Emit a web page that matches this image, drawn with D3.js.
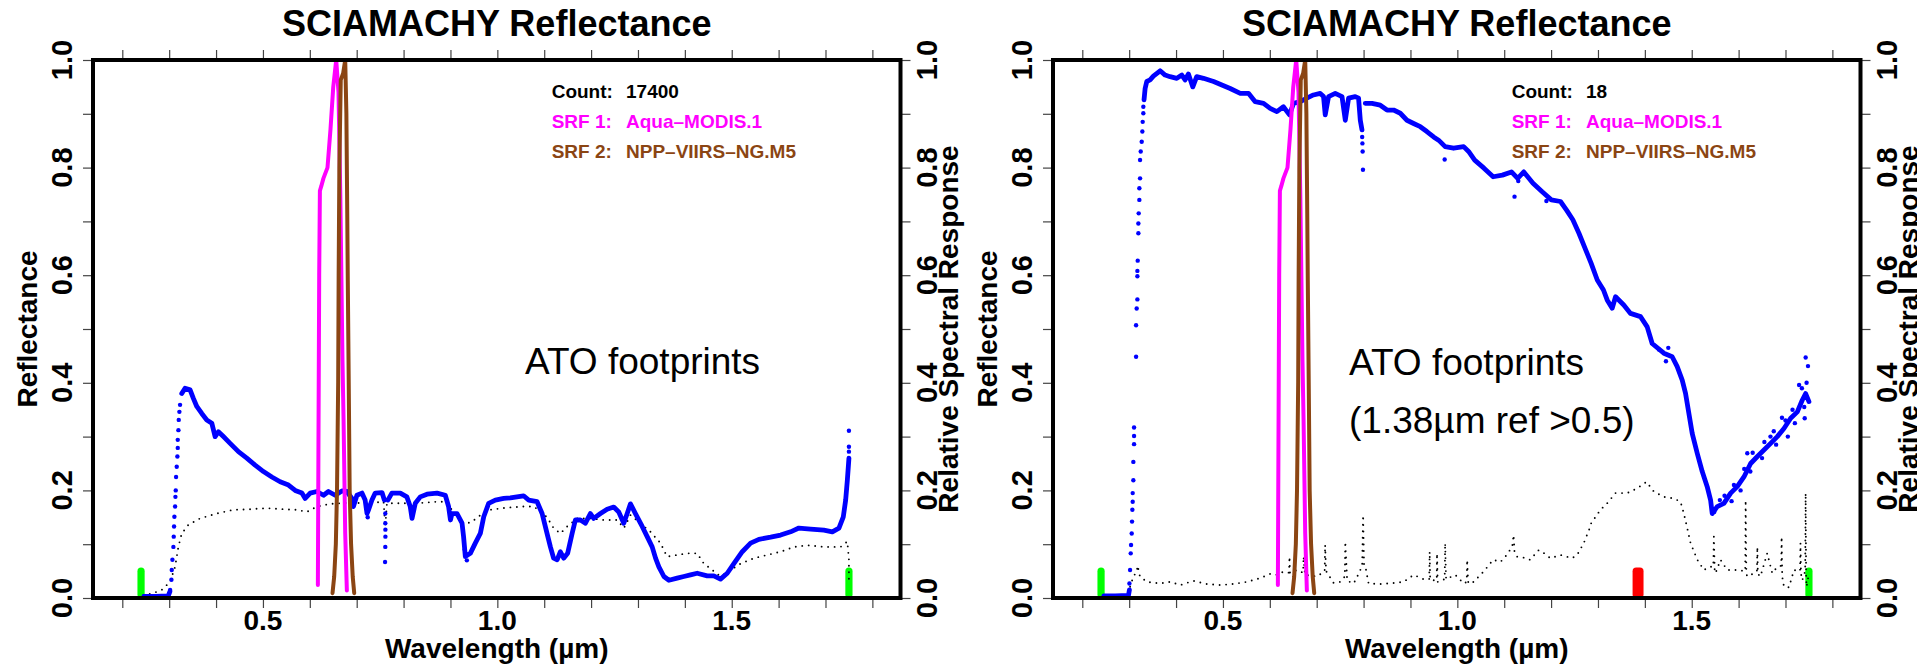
<!DOCTYPE html>
<html>
<head>
<meta charset="utf-8">
<script src="https://cdn.jsdelivr.net/npm/d3@7"></script>
<style>
  html, body { margin: 0; padding: 0; background: #fff; }
  svg { display: block; }
  text { font-family: "Liberation Sans", Arial, Helvetica, sans-serif; }
</style>
</head>
<body>
<svg id="chart" width="1917" height="667"></svg>
<script>
// ---------- axis definitions ----------
const xDomain = [0.1375, 1.86];
const xTicks = [0.2, 0.3, 0.4, 0.5, 0.6, 0.7, 0.8, 0.9, 1.0, 1.1, 1.2, 1.3, 1.4, 1.5, 1.6, 1.7, 1.8];
const xTickLabels = [0.5, 1.0, 1.5];
const yTicks = [0, 0.1, 0.2, 0.3, 0.4, 0.5, 0.6, 0.7, 0.8, 0.9, 1.0];
const yTickLabels = [0, 0.2, 0.4, 0.6, 0.8, 1.0];

// ---------- spectral response functions (wavelength µm, relative response) ----------
const srfModis = [[0.6172,0.024],[0.6185,0.30],[0.6200,0.60],[0.6215,0.757],[0.6243,0.765],[0.6290,0.78],[0.6377,0.80],[0.6440,0.87],[0.6500,0.95],[0.6563,1.0],[0.6612,0.94],[0.6650,0.75],[0.6697,0.44],[0.6720,0.33],[0.6755,0.12],[0.6790,0.014]];
const srfViirs = [[0.6484,0.009],[0.6520,0.04],[0.6555,0.10],[0.6580,0.20],[0.6605,0.40],[0.6615,0.60],[0.6630,0.80],[0.6660,0.963],[0.6710,0.975],[0.6755,1.0],[0.6780,0.90],[0.6800,0.70],[0.6810,0.59],[0.6830,0.40],[0.6850,0.20],[0.6880,0.10],[0.6915,0.04],[0.6947,0.009]];

// ---------- left panel: all ATO footprints ----------
const reflLeft = [[0.246,0.003],[0.27,0.003],[0.298,0.004],[0.3015,0.012], null,
  [0.3268,0.380],[0.3339,0.390],[0.3446,0.387],[0.3516,0.371],[0.3589,0.356],[0.3695,0.343],[0.3802,0.331],[0.3909,0.325],[0.398,0.300],[0.405,0.309],[0.4157,0.300],[0.430,0.2875],[0.4477,0.272],[0.4656,0.260],[0.4833,0.247],[0.5011,0.235],[0.519,0.225],[0.5367,0.216],[0.5545,0.210],[0.5688,0.200],[0.5831,0.195],[0.5901,0.185],[0.6008,0.195],[0.6151,0.198],[0.6292,0.191],[0.6398,0.198],[0.6541,0.191],[0.6684,0.199],[0.679,0.198],[0.6898,0.185],[0.693,0.170],[0.7005,0.191],[0.7112,0.195],[0.718,0.182],[0.722,0.157],[0.7253,0.164],[0.7325,0.182],[0.7395,0.195],[0.754,0.196],[0.759,0.182], null,
  [0.7665,0.182],[0.775,0.195],[0.793,0.195],[0.807,0.188],[0.8142,0.17],[0.818,0.148],[0.825,0.176],[0.8356,0.188],[0.85,0.193],[0.8713,0.195],[0.889,0.191],[0.896,0.17],[0.9,0.145],[0.9033,0.157],[0.914,0.157],[0.9247,0.139],[0.928,0.114],[0.9317,0.077],[0.9424,0.083],[0.953,0.102],[0.9637,0.12],[0.971,0.151],[0.9815,0.176],[0.9957,0.182],[1.0135,0.185],[1.0277,0.186],[1.056,0.19],[1.067,0.182],[1.0848,0.179],[1.0955,0.157],[1.106,0.12],[1.1132,0.095],[1.120,0.074],[1.1275,0.071],[1.1345,0.086],[1.1416,0.074],[1.150,0.083],[1.1595,0.12],[1.1665,0.145],[1.1772,0.145],[1.1879,0.139],[1.1985,0.157],[1.2056,0.148],[1.22,0.157],[1.2342,0.165],[1.2483,0.169],[1.259,0.16],[1.2697,0.139],[1.277,0.157],[1.284,0.175],[1.2946,0.157],[1.309,0.133],[1.3196,0.114],[1.3303,0.095],[1.3375,0.074],[1.3446,0.058],[1.3553,0.04],[1.366,0.033],[1.3836,0.037],[1.3977,0.04],[1.412,0.043],[1.4263,0.046],[1.4477,0.041],[1.4618,0.041],[1.476,0.035],[1.4904,0.046],[1.5045,0.064],[1.5224,0.086],[1.5402,0.102],[1.558,0.109],[1.583,0.113],[1.6042,0.117],[1.6255,0.123],[1.6433,0.13],[1.6682,0.128],[1.6966,0.126],[1.7146,0.123],[1.7287,0.13],[1.738,0.151],[1.743,0.182],[1.7466,0.219],[1.7487,0.244],[1.75,0.26]];
const reflDotsLeft = [[0.302,0.015],[0.3048,0.034],[0.3055,0.052],[0.3069,0.071],[0.309,0.095],[0.3097,0.114],[0.3104,0.133],[0.3111,0.151],[0.3126,0.170],[0.3133,0.188],[0.314,0.200],[0.3147,0.225],[0.3161,0.244],[0.3175,0.263],[0.3183,0.279],[0.3183,0.294],[0.3197,0.312],[0.3204,0.331],[0.3218,0.346],[0.3232,0.359],
  [0.761,0.157],[0.761,0.139],[0.7612,0.127],[0.7612,0.114],[0.761,0.095],[0.7605,0.067],
  [0.7235,0.150],[0.9305,0.09],[0.935,0.07],
  [1.75,0.272],[1.75,0.281],[1.75,0.311]];
const stdLeft = [[0.245,0.005],[0.266,0.009],[0.284,0.015],[0.302,0.03],[0.3126,0.058],[0.3196,0.095],[0.3268,0.12],[0.341,0.136],[0.366,0.148],[0.4016,0.157],[0.437,0.164],[0.4727,0.165],[0.5083,0.167],[0.544,0.165],[0.5724,0.164],[0.5937,0.160],[0.6151,0.170],[0.6435,0.175],[0.6862,0.177],[0.722,0.176],[0.7573,0.179],[0.761,0.133],[0.7645,0.176],[0.814,0.176],[0.816,0.16],[0.819,0.176],[0.843,0.177],[0.871,0.179],[0.889,0.179],[0.903,0.164],[0.914,0.157],[0.928,0.136],[0.946,0.142],[0.964,0.154],[0.985,0.164],[1.0207,0.168],[1.056,0.170],[1.0775,0.170],[1.099,0.157],[1.1095,0.145],[1.12,0.13],[1.1345,0.12],[1.149,0.133],[1.1702,0.148],[1.1985,0.148],[1.227,0.145],[1.2556,0.145],[1.27,0.13],[1.284,0.154],[1.3053,0.139],[1.3266,0.123],[1.348,0.102],[1.362,0.077],[1.3836,0.08],[1.405,0.083],[1.4263,0.083],[1.4405,0.064],[1.4584,0.052],[1.476,0.04],[1.4975,0.052],[1.519,0.064],[1.5472,0.074],[1.576,0.08],[1.6042,0.086],[1.633,0.095],[1.661,0.098],[1.6966,0.095],[1.7323,0.095],[1.7466,0.105],[1.75,0.071],[1.75,0.033]];

// ---------- right panel: footprints with 1.38 µm reflectance > 0.5 ----------
const reflRight = [[0.246,0.004],[0.27,0.004],[0.2985,0.005],[0.3005,0.015], null,
  [0.3317,0.926],[0.334,0.947],[0.3375,0.96],[0.3446,0.963],[0.3516,0.970],[0.366,0.98],[0.3766,0.972],[0.3873,0.969],[0.4016,0.966],[0.4123,0.972],[0.4193,0.963],[0.4264,0.974],[0.4357,0.95],[0.444,0.969],[0.4584,0.966],[0.48,0.96],[0.4977,0.9535],[0.5154,0.947],[0.537,0.938],[0.5545,0.938],[0.5688,0.9225],[0.5866,0.9195],[0.6008,0.910],[0.615,0.904],[0.629,0.913],[0.642,0.898],[0.6506,0.9195],[0.665,0.9225],[0.679,0.929],[0.693,0.935],[0.7075,0.938],[0.7146,0.932],[0.7182,0.898],[0.7253,0.932],[0.7395,0.938],[0.754,0.932],[0.761,0.888],[0.768,0.929],[0.7822,0.932],[0.7893,0.929],[0.793,0.888],[0.7966,0.87], null,
  [0.8036,0.9195],[0.818,0.9195],[0.8356,0.916],[0.85,0.907],[0.864,0.907],[0.8783,0.901],[0.8925,0.888],[0.9067,0.882],[0.921,0.876],[0.935,0.867],[0.9494,0.857],[0.96,0.851],[0.974,0.839],[0.992,0.836],[1.0135,0.839],[1.024,0.83],[1.037,0.814],[1.0568,0.799],[1.0764,0.783],[1.096,0.786],[1.1155,0.792],[1.1287,0.780],[1.1418,0.792],[1.1614,0.771],[1.181,0.755],[1.2005,0.740],[1.22,0.737],[1.233,0.721],[1.2464,0.703],[1.2594,0.678],[1.2725,0.650],[1.2855,0.622],[1.2985,0.591],[1.3117,0.5725],[1.3196,0.554],[1.3303,0.5385],[1.3375,0.56],[1.355,0.5446],[1.3694,0.529],[1.3907,0.523],[1.405,0.504],[1.4156,0.473],[1.4405,0.455],[1.4583,0.4485],[1.469,0.43],[1.4797,0.405],[1.4868,0.3805],[1.4939,0.343],[1.501,0.306],[1.5117,0.269],[1.5224,0.235],[1.533,0.207],[1.5402,0.182],[1.5437,0.157],[1.5544,0.17],[1.5686,0.176],[1.583,0.195],[1.597,0.207],[1.6113,0.225],[1.6256,0.25],[1.64,0.263],[1.654,0.275],[1.6683,0.2875],[1.6825,0.30],[1.6967,0.315],[1.711,0.334],[1.7252,0.346],[1.7359,0.368],[1.743,0.38],[1.75,0.365]];
const reflDotsRight = [[0.3005,0.027],[0.3019,0.052],[0.3033,0.083],[0.304,0.0985],[0.3054,0.12],[0.3061,0.142],[0.3068,0.164],[0.3075,0.179],[0.3075,0.195],[0.3089,0.219],[0.3089,0.253],[0.3104,0.286],[0.3104,0.301],[0.3104,0.317],
  [0.3147,0.4485],[0.3147,0.507],[0.316,0.538],[0.3175,0.555],[0.3175,0.598],[0.3175,0.608],[0.3182,0.627],[0.3196,0.678],[0.3196,0.696],[0.3203,0.715],[0.3217,0.74],[0.3217,0.7615],[0.3232,0.78],[0.3232,0.814],[0.3246,0.83],[0.3267,0.848],[0.3281,0.867],[0.3288,0.885],[0.3302,0.901],[0.3302,0.913],
  [0.797,0.857],[0.7975,0.845],[0.798,0.83],[0.7987,0.796],[0.973,0.815],[1.122,0.746],[1.13,0.775],[1.19,0.738],
  [1.43,0.462],[1.445,0.44],[1.45,0.465],
  [1.5437,0.165],[1.548,0.16],[1.56,0.182],[1.57,0.19],[1.585,0.18],[1.59,0.21],[1.6042,0.2],[1.612,0.24],[1.6185,0.269],[1.625,0.235],[1.63,0.27],[1.65,0.26],[1.655,0.29],[1.668,0.30],[1.675,0.31],[1.68,0.285],
  [1.6925,0.335],[1.70,0.33],[1.705,0.30],[1.715,0.35],[1.72,0.325],[1.729,0.396],[1.735,0.39],[1.74,0.355],[1.741,0.334],[1.743,0.447],[1.745,0.40],[1.748,0.431]];
const stdRight = [[0.302,0.021],[0.309,0.04],[0.3162,0.049],[0.318,0.06],[0.323,0.04],[0.3375,0.03],[0.366,0.027],[0.3873,0.03],[0.409,0.024],[0.437,0.032],[0.4656,0.026],[0.494,0.024],[0.522,0.026],[0.551,0.03],[0.5795,0.037],[0.601,0.045],[0.615,0.043],[0.629,0.049],[0.641,0.047],[0.642,0.077],[0.643,0.047],[0.658,0.052],[0.671,0.047],[0.672,0.077],[0.675,0.043],[0.7005,0.04],[0.711,0.046],[0.717,0.05],[0.718,0.0985],[0.72,0.05],[0.736,0.028],[0.75,0.03],[0.760,0.04],[0.761,0.105],[0.765,0.032],[0.779,0.027],[0.79,0.046],[0.797,0.06],[0.799,0.154],[0.801,0.06],[0.804,0.058],[0.8107,0.027],[0.8356,0.026],[0.864,0.028],[0.8854,0.03],[0.9067,0.043],[0.928,0.035],[0.940,0.035],[0.941,0.086],[0.942,0.035],[0.946,0.033],[0.956,0.033],[0.9567,0.083],[0.958,0.03],[0.96,0.03],[0.973,0.035],[0.974,0.102],[0.976,0.035],[0.9957,0.043],[1.0135,0.027],[1.020,0.03],[1.021,0.071],[1.023,0.03],[1.03,0.026],[1.056,0.049],[1.0764,0.071],[1.092,0.067],[1.1025,0.077],[1.117,0.095],[1.12,0.117],[1.122,0.085],[1.127,0.077],[1.1488,0.074],[1.155,0.071],[1.1736,0.089],[1.181,0.086],[1.1985,0.074],[1.22,0.08],[1.245,0.074],[1.2556,0.08],[1.2697,0.102],[1.2839,0.133],[1.2855,0.139],[1.3053,0.164],[1.3196,0.176],[1.3375,0.195],[1.3624,0.195],[1.3837,0.204],[1.4035,0.216],[1.4191,0.198],[1.4405,0.188],[1.462,0.185],[1.4761,0.179],[1.4832,0.157],[1.4904,0.13],[1.4975,0.102],[1.512,0.071],[1.526,0.052],[1.537,0.058],[1.546,0.058],[1.5472,0.114],[1.549,0.05],[1.5507,0.046],[1.5614,0.071],[1.5757,0.052],[1.597,0.052],[1.614,0.05],[1.615,0.182],[1.6165,0.045],[1.6185,0.04],[1.633,0.046],[1.639,0.05],[1.64,0.095],[1.641,0.045],[1.6465,0.04],[1.661,0.083],[1.6718,0.046],[1.6825,0.058],[1.691,0.06],[1.6917,0.114],[1.693,0.04],[1.6967,0.021],[1.7075,0.02],[1.7181,0.052],[1.731,0.05],[1.732,0.102],[1.733,0.045],[1.7359,0.033],[1.742,0.05],[1.743,0.195],[1.744,0.04],[1.745,0.021],[1.75,0.046]];

// band markers: [low µm, high µm, colour]
const bandsLeft = [[0.24, 0.24, "#00ff00"], [1.75, 1.75, "#00ff00"]];
const bandsRight = [[0.24, 0.24, "#00ff00"], [1.3815, 1.3895, "#ff0000"], [1.75, 1.75, "#00ff00"]];
const bandHeight = 0.05;

const panels = [
  { count: "17400", refl: reflLeft, dots: reflDotsLeft, std: stdLeft, bands: bandsLeft,
    notes: [{ text: "ATO footprints", x: 525, y: 374 }] },
  { count: "18", refl: reflRight, dots: reflDotsRight, std: stdRight, bands: bandsRight,
    notes: [{ text: "ATO footprints", x: 389, y: 375 }, { text: "(1.38\u00b5m ref >0.5)", x: 389, y: 433 }] }
];

// ---------- layout ----------
const svg = d3.select("#chart");
const frameL = 93, frameR = 900.5, frameT = 60, frameB = 598;
const x = d3.scaleLinear().domain(xDomain).range([frameL, frameR]);
const y = d3.scaleLinear().domain([0, 1]).range([frameB, frameT]);
const fmt = d3.format(".1f");
const line = d3.line().defined(d => d !== null).x(d => x(d[0])).y(d => y(d[1]));

panels.forEach((p, i) => {
  const g = svg.append("g").attr("transform", `translate(${i * 960},0)`);

  // tick marks on all four sides
  const tickStyle = sel => {
    sel.select(".domain").remove();
    sel.selectAll(".tick line").attr("stroke", "#444").attr("stroke-width", 1.2);
    sel.selectAll(".tick text").remove();
  };
  g.append("g").attr("transform", `translate(0,${frameB})`)
    .call(d3.axisBottom(x).tickValues(xTicks).tickSize(10).tickFormat("")).call(tickStyle);
  g.append("g").attr("transform", `translate(0,${frameT})`)
    .call(d3.axisTop(x).tickValues(xTicks).tickSize(10).tickFormat("")).call(tickStyle);
  g.append("g").attr("transform", `translate(${frameL},0)`)
    .call(d3.axisLeft(y).tickValues(yTicks).tickSize(10).tickFormat("")).call(tickStyle);
  g.append("g").attr("transform", `translate(${frameR},0)`)
    .call(d3.axisRight(y).tickValues(yTicks).tickSize(10).tickFormat("")).call(tickStyle);

  // band markers
  g.selectAll(".band").data(p.bands).enter().append("rect")
    .attr("x", d => x(d[0]) - 3.6)
    .attr("width", d => x(d[1]) - x(d[0]) + 7.2)
    .attr("y", y(bandHeight) - 3.5)
    .attr("height", y(0) - y(bandHeight) + 3.5)
    .attr("rx", 3.6).attr("ry", 3.6)
    .attr("fill", d => d[2]);

  // variability curve (dotted)
  g.append("path").attr("d", line(p.std))
    .attr("fill", "none").attr("stroke", "#000").attr("stroke-width", 1.9)
    .attr("stroke-linecap", "round").attr("stroke-linejoin", "round")
    .attr("stroke-dasharray", "0,6.5");

  // mean reflectance
  g.append("path").attr("d", line(p.refl))
    .attr("fill", "none").attr("stroke", "#0000ff").attr("stroke-width", 4.8)
    .attr("stroke-linecap", "round").attr("stroke-linejoin", "round");
  g.selectAll(".rdot").data(p.dots).enter().append("circle")
    .attr("cx", d => x(d[0])).attr("cy", d => y(d[1])).attr("r", 2.2)
    .attr("fill", "#0000ff");

  // spectral response functions
  g.append("path").attr("d", line(srfModis))
    .attr("fill", "none").attr("stroke", "#ff00ff").attr("stroke-width", 4)
    .attr("stroke-linejoin", "round").attr("stroke-linecap", "round");
  g.append("path").attr("d", line(srfViirs))
    .attr("fill", "none").attr("stroke", "#8b4513").attr("stroke-width", 4)
    .attr("stroke-linejoin", "round").attr("stroke-linecap", "round");

  // frame
  g.append("rect").attr("x", frameL).attr("y", frameT)
    .attr("width", frameR - frameL).attr("height", frameB - frameT)
    .attr("fill", "none").attr("stroke", "#000").attr("stroke-width", 4);

  // title
  g.append("text").attr("x", (frameL + frameR) / 2).attr("y", 36)
    .attr("text-anchor", "middle").attr("font-size", 36).attr("font-weight", "bold")
    .text("SCIAMACHY Reflectance");

  // x tick labels and title
  g.selectAll(".xl").data(xTickLabels).enter().append("text")
    .attr("x", d => x(d)).attr("y", 630)
    .attr("text-anchor", "middle").attr("font-size", 28).attr("font-weight", "bold")
    .text(d => fmt(d));
  g.append("text").attr("x", (frameL + frameR) / 2).attr("y", 658)
    .attr("text-anchor", "middle").attr("font-size", 28).attr("font-weight", "bold")
    .text("Wavelength (\u00b5m)");

  // y tick labels (rotated) on both sides
  [72, 937].forEach(bx => {
    g.selectAll(null).data(yTickLabels).enter().append("text")
      .attr("transform", d => `translate(${bx},${y(d)}) rotate(-90)`)
      .attr("text-anchor", "middle").attr("font-size", 29).attr("font-weight", "bold")
      .text(d => fmt(d));
  });
  g.append("text").attr("transform", `translate(37,${(frameT + frameB) / 2}) rotate(-90)`)
    .attr("text-anchor", "middle").attr("font-size", 28).attr("font-weight", "bold")
    .text("Reflectance");
  g.append("text").attr("transform", `translate(958,${(frameT + frameB) / 2}) rotate(-90)`)
    .attr("text-anchor", "middle").attr("font-size", 28).attr("font-weight", "bold")
    .text("Relative Spectral Response");

  // legend
  const legend = [
    { k: "Count:", v: p.count, c: "#000" },
    { k: "SRF 1:", v: "Aqua\u2013MODIS.1", c: "#ff00ff" },
    { k: "SRF 2:", v: "NPP\u2013VIIRS\u2013NG.M5", c: "#8b4513" }
  ];
  legend.forEach((l, j) => {
    g.append("text").attr("x", 551.7).attr("y", 98.3 + j * 30)
      .attr("font-size", 19).attr("font-weight", "bold").attr("fill", l.c).text(l.k);
    g.append("text").attr("x", 626).attr("y", 98.3 + j * 30)
      .attr("font-size", 19).attr("font-weight", "bold").attr("fill", l.c).text(l.v);
  });

  // annotations
  p.notes.forEach(n => {
    g.append("text").attr("x", n.x).attr("y", n.y)
      .attr("font-size", 37).attr("fill", "#000").text(n.text);
  });
});
</script>
</body>
</html>
